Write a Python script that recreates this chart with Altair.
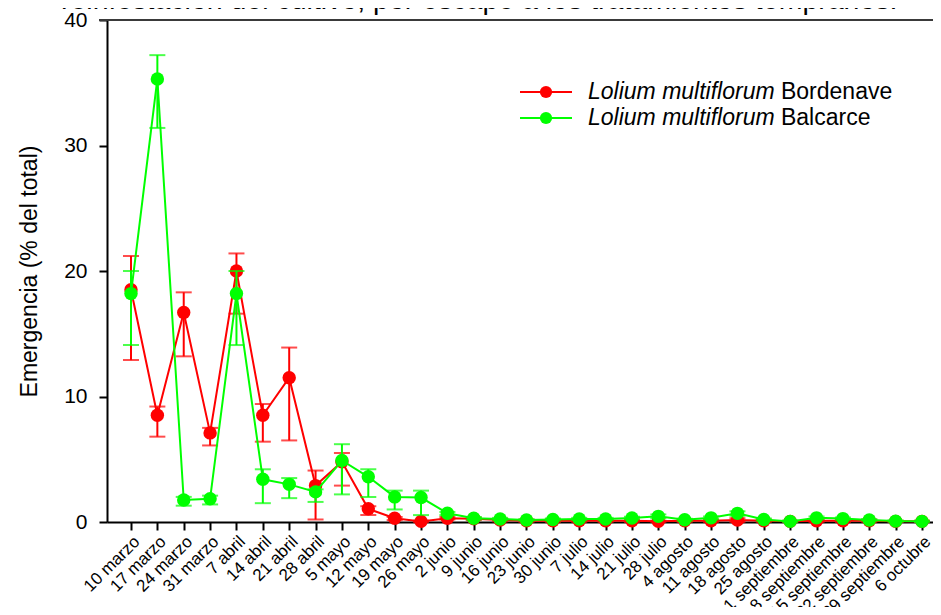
import altair as alt
import pandas as pd

dates = ["10 marzo", "17 marzo", "24 marzo", "31 marzo", "7 abril", "14 abril", "21 abril",
         "28 abril", "5 mayo", "12 mayo", "19 mayo", "26 mayo", "2 junio", "9 junio",
         "16 junio", "23 junio", "30 junio", "7 julio", "14 julio", "21 julio", "28 julio",
         "4 agosto", "11 agosto", "18 agosto", "25 agosto", "1 septiembre", "8 septiembre",
         "15 septiembre", "22 septiembre", "29 septiembre", "6 octubre"]

bordenave_mean = [18.5, 8.5, 16.7, 7.1, 20.0, 8.5, 11.5, 2.9, 4.8, 1.05, 0.3, 0.05, 0.3, 0.25,
                  0.15, 0.1, 0.1, 0.1, 0.1, 0.1, 0.05, 0.1, 0.1, 0.15, 0.1, 0.05, 0.1, 0.1,
                  0.1, 0.05, 0.05]
bordenave_low = [12.9, 6.8, 13.2, 6.1, 16.6, 6.4, 6.5, 0.2, 2.9, 0.55, 0.15, 0.0, 0.2, 0.15,
                 0.05, 0.0, 0.0, 0.0, 0.0, 0.0, 0.0, 0.0, 0.0, 0.0, 0.0, 0.0, 0.0, 0.0,
                 0.0, 0.0, 0.0]
bordenave_high = [21.2, 9.2, 18.3, 7.5, 21.4, 9.4, 13.9, 4.1, 5.5, 1.25, 0.4, 0.1, 0.4, 0.35,
                  0.25, 0.2, 0.2, 0.2, 0.2, 0.2, 0.1, 0.2, 0.2, 0.3, 0.2, 0.1, 0.2, 0.2,
                  0.2, 0.1, 0.1]

balcarce_mean = [18.2, 35.3, 1.75, 1.85, 18.2, 3.4, 3.0, 2.4, 4.9, 3.6, 2.0, 1.95, 0.7, 0.3,
                 0.24, 0.16, 0.2, 0.24, 0.24, 0.32, 0.45, 0.18, 0.33, 0.69, 0.2, 0.05, 0.33,
                 0.27, 0.16, 0.07, 0.05]
balcarce_low = [14.1, 31.4, 1.3, 1.4, 14.1, 1.5, 1.9, 1.6, 2.2, 2.0, 1.0, 0.55, 0.55, 0.2,
                0.15, 0.1, 0.12, 0.15, 0.15, 0.22, 0.3, 0.1, 0.22, 0.5, 0.12, 0.0, 0.22,
                0.18, 0.1, 0.02, 0.0]
balcarce_high = [20.0, 37.2, 2.0, 2.1, 20.0, 4.2, 3.5, 2.6, 6.2, 4.2, 2.5, 2.5, 0.8, 0.4,
                 0.33, 0.22, 0.28, 0.33, 0.33, 0.42, 0.6, 0.26, 0.44, 0.85, 0.28, 0.1, 0.44,
                 0.36, 0.22, 0.12, 0.1]

series_names = ["Bordenave", "Balcarce"]
series_colors = ["#ff0000", "#00ff00"]
legend_species = "Lolium multiflorum"
title_text = "reinfestación del cultivo, por escape a los tratamientos tempranos."
y_title = "Emergencia (% del total)"

rows = []
for name, m, lo, hi in [("Bordenave", bordenave_mean, bordenave_low, bordenave_high),
                        ("Balcarce", balcarce_mean, balcarce_low, balcarce_high)]:
    for i, d in enumerate(dates):
        rows.append({"serie": name, "idx": i, "fecha": d, "mean": m[i], "lo": lo[i], "hi": hi[i]})
df = pd.DataFrame(rows)

FONT = "Liberation Sans"
W, H = 826, 502

xscale = alt.Scale(domain=[-0.91, 30.417], nice=False, zero=False)
yscale = alt.Scale(domain=[0, 40], nice=False, zero=True)
color_scale = alt.Scale(domain=series_names, range=series_colors)

label_expr = "[" + ",".join("'" + d + "'" for d in dates) + "][datum.value]"
x_axis = alt.Axis(values=list(range(len(dates))), labelExpr=label_expr, labelAngle=-45,
                  labelAlign="right", labelBaseline="top", labelFontSize=17, labelFont=FONT,
                  labelColor="black", labelPadding=3, labelOverlap=False, labelBound=False,
                  tickSize=8, tickWidth=2, tickColor="black", domainWidth=2,
                  domainColor="black", grid=False, title=None)
y_axis = alt.Axis(values=[0, 10, 20, 30, 40], labelFontSize=21, labelFont=FONT,
                  labelColor="black", labelPadding=12, tickSize=8, tickWidth=2,
                  tickColor="black", domainWidth=2, domainColor="black", grid=False,
                  title=y_title, titleFont=FONT, titleFontSize=23, titleFontWeight="normal",
                  titleColor="black", titleX=-78, titleY=H / 2, titleAngle=-90,
                  titleAlign="center", titleBaseline="middle")

X = alt.X("idx:Q", scale=xscale, axis=x_axis)
C = alt.Color("serie:N", scale=color_scale, legend=None)

base = alt.Chart(df)
layers = []

layers.append(
    alt.Chart(pd.DataFrame({"v": [40]})).mark_rule(color="#3a3a3a", strokeWidth=2).encode(
        y=alt.Y("v:Q", scale=yscale, axis=y_axis), x=alt.value(-8), x2=alt.value(W))
)

for s in series_names:
    b = base.transform_filter(alt.datum.serie == s)
    layers.append(b.mark_rule(strokeWidth=2).encode(
        x=X, y=alt.Y("lo:Q", scale=yscale, axis=y_axis), y2="hi:Q", color=C))
    layers.append(b.mark_tick(orient="horizontal", size=16, thickness=2).encode(
        x=X, y=alt.Y("lo:Q", scale=yscale, axis=y_axis), color=C))
    layers.append(b.mark_tick(orient="horizontal", size=16, thickness=2).encode(
        x=X, y=alt.Y("hi:Q", scale=yscale, axis=y_axis), color=C))
    layers.append(b.mark_line(strokeWidth=2).encode(
        x=X, y=alt.Y("mean:Q", scale=yscale, axis=y_axis), color=C))
    layers.append(b.mark_point(filled=True, size=180, opacity=1).encode(
        x=X, y=alt.Y("mean:Q", scale=yscale, axis=y_axis), color=C))

# legend (drawn by hand, species name in italics)
LEG_FS = 23
leg_y = [72, 98]
for s, col, yy in zip(series_names, series_colors, leg_y):
    one = alt.Chart(pd.DataFrame({"serie": [s], "sp": [legend_species]}))
    layers.append(one.mark_rule(color=col, strokeWidth=2).encode(
        x=alt.value(413), x2=alt.value(465), y=alt.value(yy)))
    layers.append(one.mark_point(filled=True, size=150, opacity=1, color=col).encode(
        x=alt.value(439), y=alt.value(yy)))
    layers.append(one.mark_text(align="left", baseline="middle", fontSize=LEG_FS, font=FONT,
                                fontStyle="italic", color="black").encode(
        text="sp:N", x=alt.value(481), y=alt.value(yy)))
    layers.append(one.mark_text(align="left", baseline="middle", fontSize=LEG_FS, font=FONT,
                                color="black").encode(
        text="serie:N", x=alt.value(481 + 8.39 * LEG_FS), y=alt.value(yy)))

layers.append(
    alt.Chart(pd.DataFrame({"t": [title_text]})).mark_text(
        align="left", baseline="alphabetic", fontSize=28.5, font=FONT, color="black").encode(
        text="t:N", x=alt.value(-46), y=alt.value(-11))
)

chart = alt.layer(*layers).properties(
    width=W, height=H,
    autosize=alt.AutoSizeParams(type="none"),
    padding={"left": 99, "top": 12, "right": 0, "bottom": 85},
).configure_view(stroke=None).configure(background="white")

chart.save("out.html", embed_options={"renderer": "svg", "actions": False})
